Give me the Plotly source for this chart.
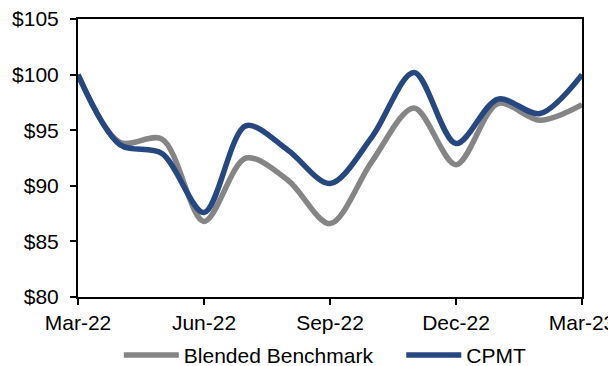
import plotly.graph_objects as go

months = ["Mar-22", "Apr-22", "May-22", "Jun-22", "Jul-22", "Aug-22", "Sep-22",
          "Oct-22", "Nov-22", "Dec-22", "Jan-23", "Feb-23", "Mar-23"]
benchmark = [100.0, 93.9, 94.2, 86.8, 92.5, 90.5, 86.6, 92.2, 97.0, 91.9, 97.4, 95.9, 97.3]
cpmt = [100.0, 93.7, 92.9, 87.6, 95.4, 93.2, 90.2, 94.4, 100.2, 93.8, 97.8, 96.5, 100.0]
series_names = ["Blended Benchmark", "CPMT"]
tick_labels = ["Mar-22", "Jun-22", "Sep-22", "Dec-22", "Mar-23"]
y_ticks = [80, 85, 90, 95, 100, 105]

x = list(range(len(months)))
tick_pos = [months.index(t) for t in tick_labels]

fig = go.Figure()
fig.add_trace(go.Scatter(x=x, y=benchmark, mode="lines",
                         name=series_names[0] + "\u00a0" * 4,
                         line=dict(color="#858585", width=5.5, shape="spline", smoothing=0.9)))
fig.add_trace(go.Scatter(x=x, y=cpmt, mode="lines", name=series_names[1],
                         line=dict(color="#264780", width=5.5, shape="spline", smoothing=0.9)))

font = dict(family="Liberation Sans, Arial, sans-serif", size=21, color="#000000")
fig.update_layout(
    width=608, height=358,
    margin=dict(l=70, r=34, t=11, b=69, autoexpand=False),
    paper_bgcolor="white", plot_bgcolor="white",
    font=font,
    showlegend=True,
    legend=dict(orientation="h", x=0.081, xanchor="left", y=-0.136, yanchor="top",
                font=font, itemwidth=55, tracegroupgap=0,
                bgcolor="rgba(0,0,0,0)"),
    xaxis=dict(range=[0, 12], tickvals=tick_pos, ticktext=tick_labels, automargin=False,
               ticklabeloverflow="allow",
               showgrid=False, zeroline=False, showline=True, linecolor="black", linewidth=2,
               mirror=True, ticks="outside", ticklen=6, tickwidth=2, tickcolor="black"),
    yaxis=dict(range=[80, 105], tickvals=y_ticks, ticktext=["$%d" % v for v in y_ticks],
               automargin=False, ticklabelstandoff=7, ticklabeloverflow="allow",
               showgrid=False, zeroline=False, showline=True, linecolor="black", linewidth=2,
               mirror=True, ticks="outside", ticklen=6, tickwidth=2, tickcolor="black"),
)
fig.write_html("out.html")
